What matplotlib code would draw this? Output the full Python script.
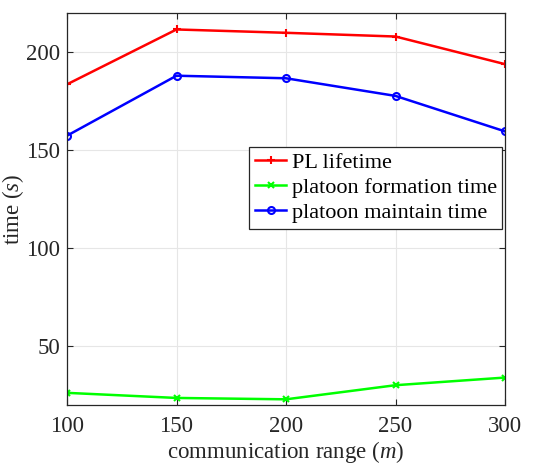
import matplotlib
matplotlib.use('Agg')
import matplotlib.pyplot as plt

plt.rcParams['font.family'] = ['Liberation Serif', 'DejaVu Serif']
plt.rcParams['mathtext.fontset'] = 'custom'
plt.rcParams['mathtext.rm'] = 'Liberation Serif'
plt.rcParams['mathtext.it'] = 'Liberation Serif:italic'

# communication range (m)
comm_range = [100, 150, 200, 250, 300]
pl_lifetime = [183.6, 211.6, 209.9, 208.0, 193.9]
formation_time = [26.2, 23.6, 22.9, 30.1, 34.0]
maintain_time = [157.4, 188.0, 186.7, 177.7, 159.6]

fig = plt.figure(figsize=(5.35, 4.65), dpi=100)
ax = fig.add_axes([67 / 535, 60 / 465, 438 / 535, 392 / 465])

ax.plot(comm_range, pl_lifetime, color='#ff0000', lw=1.8, marker='+', ms=6, mew=1.5,
        label='PL lifetime')
ax.plot(comm_range, formation_time, color='#00ff00', lw=1.8, marker='x', ms=5, mew=1.5,
        label='platoon formation time')
ax.plot(comm_range, maintain_time, color='#0000ff', lw=1.8, marker='o', ms=5, mew=1.5,
        mfc='none', label='platoon maintain time')

ax.set_xlim(100, 300)
ax.set_ylim(20, 220)
ax.set_xticks([100, 150, 200, 250, 300])
ax.set_yticks([50, 100, 150, 200])
ax.grid(True, color='#e6e6e6', lw=0.8)
ax.set_axisbelow(True)
ax.tick_params(direction='in', top=True, right=True, labelsize=16.5, length=4,
               colors='#262626', labelcolor='#262626')
ax.tick_params(axis='x', pad=8)
ax.tick_params(axis='y', pad=5)
for s in ax.spines.values():
    s.set_color('#262626')
    s.set_linewidth(0.9)

ax.set_xlabel('communication range ($m$)', fontsize=16.5, color='#262626', labelpad=1)
ax.set_ylabel('time ($s$)', fontsize=16.5, color='#262626', labelpad=0)

leg = ax.legend(loc='upper right', bbox_to_anchor=(0.994, 0.658), fontsize=16,
                fancybox=False, framealpha=1, edgecolor='#262626',
                handlelength=1.4, handletextpad=0.25, borderpad=0.25, labelspacing=0.2,
                borderaxespad=0)
leg.get_frame().set_linewidth(0.9)

plt.savefig('out.png', dpi=100)
